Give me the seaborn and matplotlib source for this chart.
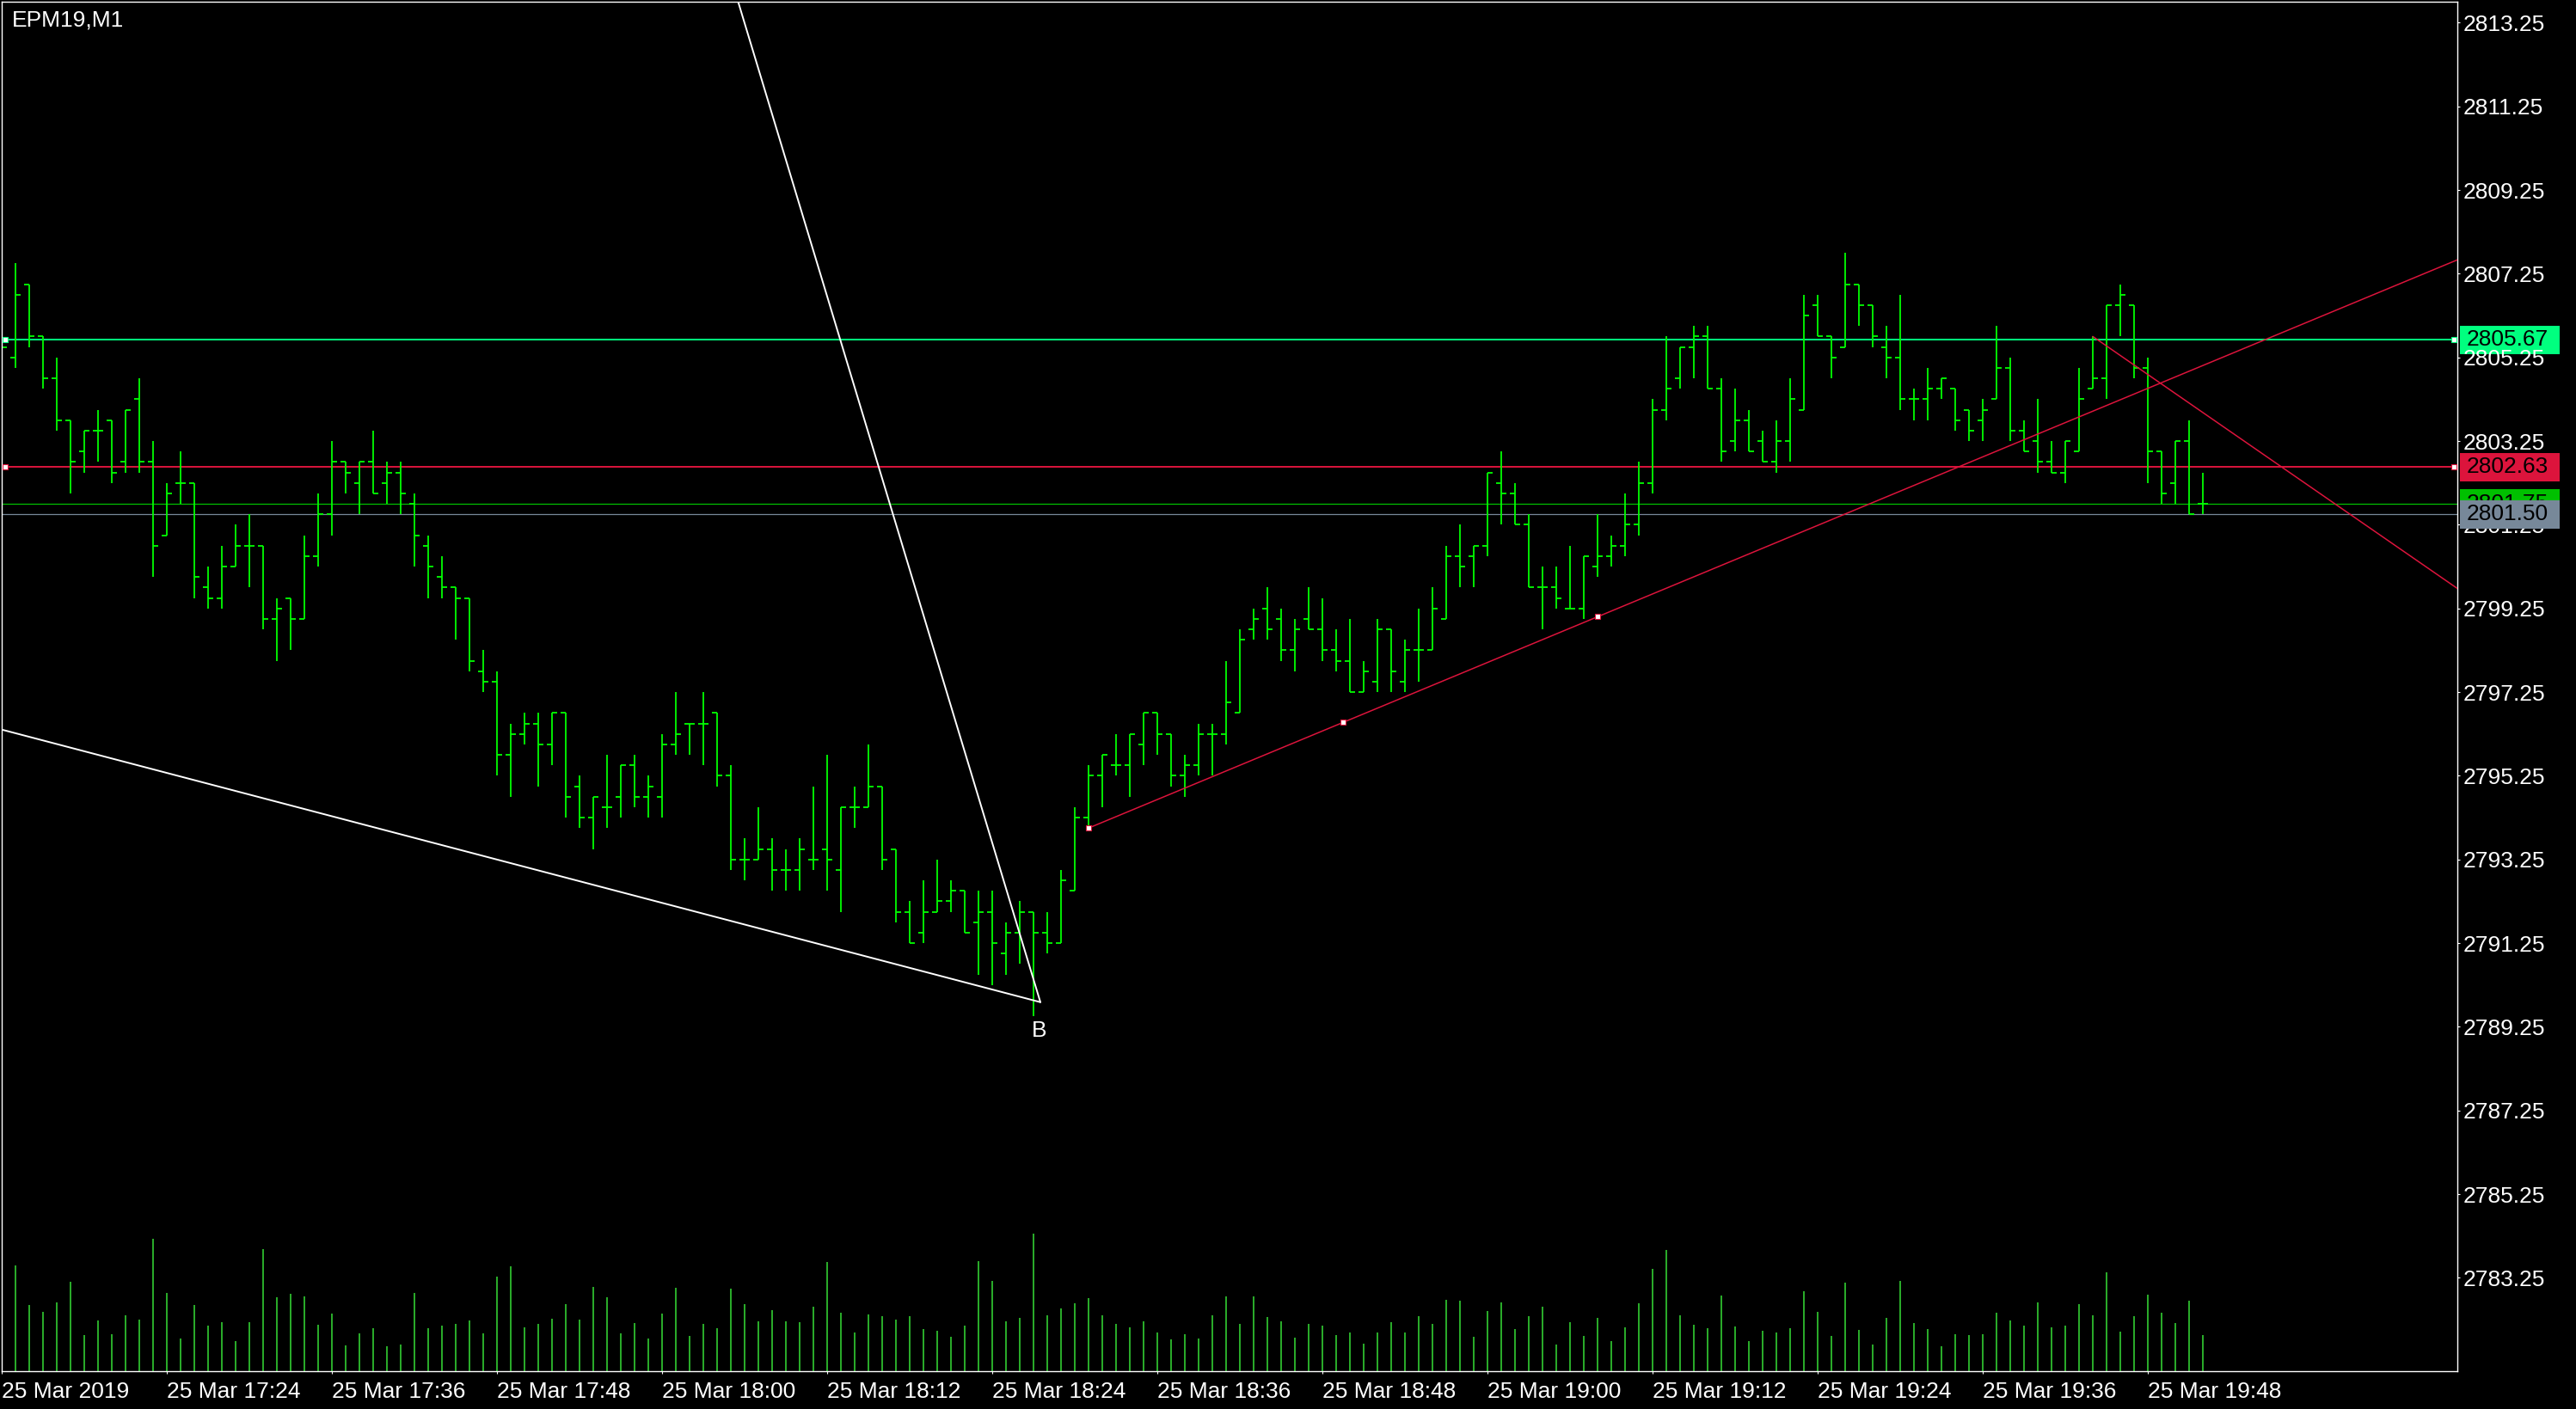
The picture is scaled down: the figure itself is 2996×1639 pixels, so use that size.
import numpy as np
import pandas as pd
import matplotlib
matplotlib.use("Agg")
import matplotlib.pyplot as plt
import matplotlib.transforms as mtransforms
from matplotlib.patches import Rectangle
import seaborn as sns

# chart data, one-minute bars of EPM19 (bar index 0 = 25 Mar 17:12)
symbol_title = "EPM19,M1"

opens = [2805.75, 2805.25, 2807.0, 2805.75, 2804.75, 2803.75, 2803.0, 2803.5, 2803.75, 2802.75,
         2804.25, 2802.75, 2801.0, 2802.25, 2802.25, 2799.75, 2799.5, 2800.25, 2800.75, 2800.75,
         2799.0, 2799.5, 2799.0, 2800.5, 2801.5, 2802.75, 2802.25, 2802.75, 2802.25, 2802.5,
         2801.75, 2800.75, 2800.0, 2799.75, 2799.5, 2797.75, 2797.5, 2795.75, 2796.25, 2796.5,
         2796.0, 2796.75, 2795.0, 2794.25, 2794.5, 2794.75, 2795.5, 2794.75, 2794.75, 2796.0,
         2796.5, 2796.5, 2796.75, 2795.25, 2793.25, 2793.25, 2793.5, 2793.0, 2793.0, 2793.25,
         2793.5, 2793.0, 2794.5, 2794.5, 2795.0, 2793.5, 2792.0, 2791.5, 2792.0, 2792.25,
         2792.5, 2791.75, 2792.0, 2791.0, 2791.5, 2792.0, 2791.5, 2791.25, 2792.5, 2794.25,
         2795.25, 2795.5, 2795.5, 2796.0, 2796.75, 2796.25, 2795.25, 2795.5, 2796.25, 2796.25,
         2796.75, 2798.75, 2799.25, 2799.0, 2798.25, 2799.0, 2798.75, 2798.25, 2798.0, 2797.25,
         2797.5, 2798.75, 2797.5, 2798.25, 2798.25, 2799.0, 2800.5, 2800.5, 2800.75, 2802.25,
         2802.0, 2801.25, 2799.75, 2799.75, 2799.25, 2799.25, 2800.25, 2800.5, 2800.75, 2801.25,
         2802.25, 2804.0, 2804.75, 2805.5, 2805.75, 2804.5, 2803.25, 2803.75, 2803.25, 2802.75,
         2803.25, 2804.0, 2806.5, 2805.75, 2805.5, 2807.0, 2806.5, 2805.5, 2805.25, 2804.25,
         2804.25, 2804.5, 2804.5, 2804.0, 2803.75, 2804.25, 2805.0, 2803.5, 2803.25, 2802.75,
         2802.5, 2803.0, 2804.5, 2804.75, 2806.5, 2806.5, 2805.0, 2803.0, 2802.25, 2803.25,
         2801.75]
highs = [2806.0, 2807.5, 2807.0, 2805.75, 2805.25, 2803.75, 2803.5, 2804.0, 2803.75, 2804.0,
         2804.75, 2803.25, 2802.25, 2803.0, 2802.25, 2800.25, 2800.75, 2801.25, 2801.5, 2800.75,
         2799.5, 2799.5, 2801.0, 2802.0, 2803.25, 2802.75, 2802.75, 2803.5, 2802.75, 2802.75,
         2802.0, 2801.0, 2800.5, 2799.75, 2799.5, 2798.25, 2797.75, 2796.5, 2796.75, 2796.75,
         2796.75, 2796.75, 2795.25, 2794.75, 2795.75, 2795.5, 2795.75, 2795.25, 2796.25, 2797.25,
         2796.5, 2797.25, 2796.75, 2795.5, 2793.75, 2794.5, 2793.75, 2793.5, 2793.75, 2795.0,
         2795.75, 2794.5, 2795.0, 2796.0, 2795.0, 2793.5, 2792.25, 2792.75, 2793.25, 2792.75,
         2792.5, 2792.5, 2792.5, 2791.75, 2792.25, 2792.0, 2792.0, 2793.0, 2794.5, 2795.5,
         2795.75, 2796.25, 2796.25, 2796.75, 2796.75, 2796.25, 2795.75, 2796.5, 2796.5, 2798.0,
         2798.75, 2799.25, 2799.75, 2799.25, 2799.0, 2799.75, 2799.5, 2798.75, 2799.0, 2798.0,
         2799.0, 2798.75, 2798.5, 2799.25, 2799.75, 2800.75, 2801.25, 2800.75, 2802.5, 2803.0,
         2802.25, 2801.5, 2800.25, 2800.25, 2800.75, 2800.5, 2801.5, 2801.0, 2802.0, 2802.75,
         2804.25, 2805.75, 2805.5, 2806.0, 2806.0, 2804.75, 2804.5, 2804.0, 2803.5, 2803.75,
         2804.75, 2806.75, 2806.75, 2805.75, 2807.75, 2807.0, 2806.5, 2806.0, 2806.75, 2804.5,
         2805.0, 2804.75, 2804.5, 2804.0, 2804.25, 2806.0, 2805.25, 2803.75, 2804.25, 2803.25,
         2803.25, 2805.0, 2805.75, 2806.5, 2807.0, 2806.5, 2805.25, 2803.0, 2803.25, 2803.75,
         2802.5]
lows = [2805.25, 2805.0, 2805.5, 2804.5, 2803.5, 2802.0, 2802.5, 2802.75, 2802.25, 2802.5,
        2802.5, 2800.0, 2801.0, 2801.75, 2799.5, 2799.25, 2799.25, 2800.25, 2799.75, 2798.75,
        2798.0, 2798.25, 2799.0, 2800.25, 2801.0, 2802.0, 2801.5, 2802.0, 2801.75, 2801.5,
        2800.25, 2799.5, 2799.5, 2798.5, 2797.75, 2797.25, 2795.25, 2794.75, 2796.0, 2795.0,
        2795.5, 2794.25, 2794.0, 2793.5, 2794.0, 2794.25, 2794.5, 2794.25, 2794.25, 2795.75,
        2795.75, 2795.5, 2795.0, 2793.0, 2792.75, 2793.25, 2792.5, 2792.5, 2792.5, 2793.0,
        2792.5, 2792.0, 2794.0, 2794.5, 2793.0, 2791.75, 2791.25, 2791.25, 2792.0, 2792.0,
        2791.5, 2790.5, 2790.25, 2790.5, 2790.75, 2789.5, 2791.0, 2791.25, 2792.5, 2794.0,
        2794.5, 2795.25, 2794.75, 2795.5, 2795.75, 2795.0, 2794.75, 2795.25, 2795.25, 2796.0,
        2796.75, 2798.5, 2798.5, 2798.0, 2797.75, 2798.75, 2798.0, 2797.75, 2797.25, 2797.25,
        2797.25, 2797.25, 2797.25, 2797.5, 2798.25, 2799.0, 2799.75, 2799.75, 2800.5, 2801.25,
        2801.25, 2799.75, 2798.75, 2799.25, 2799.25, 2799.0, 2800.0, 2800.25, 2800.5, 2801.0,
        2802.0, 2803.75, 2804.5, 2804.75, 2804.5, 2802.75, 2803.0, 2803.0, 2802.75, 2802.5,
        2802.75, 2804.0, 2805.75, 2804.75, 2805.5, 2806.0, 2805.5, 2804.75, 2804.0, 2803.75,
        2803.75, 2804.25, 2803.5, 2803.25, 2803.25, 2804.25, 2803.25, 2803.0, 2802.5, 2802.5,
        2802.25, 2803.0, 2804.5, 2804.25, 2805.75, 2804.75, 2802.25, 2801.75, 2801.75, 2801.5,
        2801.5]
closes = [2805.5, 2806.75, 2805.75, 2804.75, 2803.75, 2802.75, 2803.5, 2803.5, 2802.5, 2804.0,
          2802.75, 2800.75, 2802.0, 2802.25, 2800.0, 2799.5, 2800.25, 2800.75, 2800.75, 2799.0,
          2799.25, 2799.0, 2800.5, 2801.5, 2802.75, 2802.5, 2802.75, 2802.0, 2802.5, 2802.0,
          2801.0, 2800.25, 2799.75, 2799.5, 2798.0, 2797.5, 2795.75, 2796.25, 2796.5, 2796.0,
          2796.75, 2794.75, 2794.25, 2794.75, 2794.5, 2795.5, 2794.75, 2795.0, 2796.0, 2796.25,
          2796.5, 2796.5, 2795.25, 2793.25, 2793.25, 2793.5, 2793.0, 2793.0, 2793.5, 2793.25,
          2793.25, 2794.5, 2794.5, 2795.0, 2793.25, 2792.0, 2791.25, 2792.0, 2792.25, 2792.5,
          2791.5, 2792.0, 2791.25, 2791.5, 2792.0, 2791.5, 2791.25, 2792.75, 2794.25, 2795.25,
          2795.75, 2795.5, 2796.25, 2796.75, 2796.25, 2795.25, 2795.5, 2796.25, 2796.25, 2797.0,
          2798.5, 2799.0, 2798.75, 2798.25, 2798.75, 2798.75, 2798.25, 2798.0, 2797.25, 2797.75,
          2798.75, 2797.75, 2798.25, 2798.25, 2799.25, 2800.5, 2800.25, 2800.75, 2802.5, 2802.0,
          2801.25, 2799.75, 2799.75, 2799.5, 2799.25, 2800.5, 2800.5, 2800.75, 2801.25, 2802.25,
          2804.0, 2804.5, 2805.5, 2805.75, 2804.5, 2803.0, 2803.75, 2803.0, 2802.75, 2803.25,
          2804.25, 2806.25, 2805.75, 2805.25, 2807.0, 2806.5, 2805.75, 2805.25, 2804.25, 2804.25,
          2804.5, 2804.75, 2803.75, 2803.5, 2804.0, 2805.0, 2803.5, 2803.0, 2802.75, 2802.5,
          2803.25, 2804.25, 2804.75, 2806.5, 2806.75, 2805.0, 2803.0, 2802.0, 2803.25, 2801.5,
          2801.75]
volumes = [250, 369, 231, 207, 240, 312, 126, 177, 129, 195, 180, 462, 273, 114, 231, 159, 171,
           105, 171, 426, 258, 270, 261, 162, 201, 90, 132, 150, 87, 93, 273, 150, 159, 165, 177,
           132, 330, 366, 153, 165, 183, 234, 180, 294, 258, 132, 168, 114, 201, 291, 123, 165,
           150, 288, 234, 174, 213, 174, 171, 225, 381, 204, 135, 198, 192, 180, 192, 147, 141,
           120, 159, 384, 315, 174, 186, 480, 195, 219, 237, 255, 195, 165, 153, 174, 135, 111,
           129, 114, 195, 261, 165, 261, 189, 174, 117, 165, 159, 126, 135, 96, 135, 171, 135,
           192, 165, 249, 246, 120, 210, 240, 147, 192, 225, 93, 171, 123, 186, 105, 153, 237,
           357, 423, 195, 162, 150, 264, 156, 105, 141, 135, 150, 279, 207, 123, 309, 144, 93,
           186, 315, 168, 147, 87, 129, 126, 129, 204, 177, 159, 240, 153, 159, 234, 195, 345,
           138, 192, 267, 204, 168, 246, 126]

time_ticks = [0, 12, 24, 36, 48, 60, 72, 84, 96, 108, 120, 132, 144, 156]
time_labels = ["25 Mar 2019", "25 Mar 17:24", "25 Mar 17:36", "25 Mar 17:48", "25 Mar 18:00",
               "25 Mar 18:12", "25 Mar 18:24", "25 Mar 18:36", "25 Mar 18:48", "25 Mar 19:00",
               "25 Mar 19:12", "25 Mar 19:24", "25 Mar 19:36", "25 Mar 19:48"]
price_ticks = [2783.25, 2785.25, 2787.25, 2789.25, 2791.25, 2793.25, 2795.25, 2797.25,
               2799.25, 2801.25, 2803.25, 2805.25, 2807.25, 2809.25, 2811.25, 2813.25]

# horizontal levels and quote lines
level_prices = [2805.67, 2802.63]
level_colors = ["#00FF7F", "#DC143C"]
ask_price = 2801.75
bid_price = 2801.50

# drawn objects (bar index, price)
trend_up_bars = [79, 116]
trend_up_prices = [2794.0, 2799.05]
trend_down_bars = [152, 163]
trend_down_prices = [2805.75, 2803.25]
fan_low_bars = [-1.0, 75.5]
fan_low_prices = [2796.44, 2789.84]
fan_high_bars = [53.3, 75.5]
fan_high_prices = [2814.0, 2789.84]
point_b_bar = 75.5
point_b_price = 2789.84

BAR_GREEN = "#00FF00"
VOL_GREEN = "#32CD32"

sns.set_theme(style="dark", rc={"axes.facecolor": "black", "figure.facecolor": "black",
                                "savefig.facecolor": "black", "axes.grid": False})
plt.rcParams["font.family"] = ["Liberation Sans", "DejaVu Sans"]

W, H = 2996, 1639
fig = plt.figure(figsize=(W / 100, H / 100), dpi=100)
ax = fig.add_axes([2 / W, 44 / H, 2856 / W, 1593 / H])
x_max = 178.5
y_min, y_max = 2781.02, 2813.75

bars = pd.DataFrame({"open": opens, "high": highs, "low": lows, "close": closes, "volume": volumes})
bars["idx"] = np.arange(len(bars))

# volume on its own scale, under the price bars
ax_vol = ax.twinx()
ax_vol.vlines(bars["idx"], 0, bars["volume"], color=VOL_GREEN, lw=1.2)
ax_vol.set_ylim(0, 3 * 1593)
ax_vol.set_yticks([])
for s in ax_vol.spines.values():
    s.set_visible(False)
ax_vol.set_zorder(0)
ax.set_zorder(1)
ax.patch.set_visible(False)

# OHLC bars
tick = 0.375
ax.vlines(bars["idx"], bars["low"], bars["high"], color=BAR_GREEN, lw=1.3, zorder=2)
ax.hlines(bars["open"], bars["idx"] - tick, bars["idx"], color=BAR_GREEN, lw=1.3, zorder=2)
ax.hlines(bars["close"], bars["idx"], bars["idx"] + tick, color=BAR_GREEN, lw=1.3, zorder=2)

# levels
for p, c in zip(level_prices, level_colors):
    ax.axhline(p, color=c, lw=1.4, zorder=1)
ax.axhline(ask_price, color="#00C000", lw=0.9, zorder=1)
ax.axhline(bid_price, color="#778899", lw=0.9, zorder=1)

# trend lines (rays to the right edge)
def ray(xs, ys, x_end):
    k = (ys[1] - ys[0]) / (xs[1] - xs[0])
    return [xs[0], x_end], [ys[0], ys[0] + k * (x_end - xs[0])]

rx, ry = ray(trend_up_bars, trend_up_prices, x_max + 1)
sns.lineplot(x=rx, y=ry, ax=ax, color="#DC143C", lw=1.1, estimator=None, sort=False, zorder=3)
rx, ry = ray(trend_down_bars, trend_down_prices, x_max + 1)
sns.lineplot(x=rx, y=ry, ax=ax, color="#DC143C", lw=1.1, estimator=None, sort=False, zorder=3)
sns.lineplot(x=fan_low_bars, y=fan_low_prices, ax=ax, color="white", lw=1.4,
             estimator=None, sort=False, zorder=3)
sns.lineplot(x=fan_high_bars, y=fan_high_prices, ax=ax, color="white", lw=1.4,
             estimator=None, sort=False, zorder=3)
ax.annotate("B", xy=(point_b_bar, point_b_price), xytext=(-1, -15), textcoords="offset points",
            ha="center", va="top", color="white", fontsize=19, zorder=4)

# anchor markers of the selected objects
mid_bar = (trend_up_bars[0] + trend_up_bars[1]) / 2
mid_price = (trend_up_prices[0] + trend_up_prices[1]) / 2
sns.scatterplot(x=[trend_up_bars[0], mid_bar, trend_up_bars[1]],
                y=[trend_up_prices[0], mid_price, trend_up_prices[1]], ax=ax, marker="s", s=20,
                color="white", edgecolor="#DC143C", linewidth=0.8, zorder=4, legend=False)
for p, c in zip(level_prices, level_colors):
    sns.scatterplot(x=[0.25, x_max - 0.25], y=[p, p], ax=ax, marker="s", s=20, color="white",
                    edgecolor=c, linewidth=0.8, zorder=4, legend=False, clip_on=False)

ax.set_xlim(0, x_max)
ax.set_ylim(y_min, y_max)
ax.set_xlabel("")
ax.set_ylabel("")
ax.grid(False)
ax.set_axisbelow(True)

ax.yaxis.tick_right()
ax.set_yticks(price_ticks)
ax.set_yticklabels([f"{p:.2f}" for p in price_ticks])
ax.set_xticks(time_ticks)
ax.set_xticklabels(time_labels, ha="left")
ax.tick_params(axis="y", right=True, left=False, colors="white", labelsize=19,
               length=2.5, width=0.8, pad=2, direction="out")
ax.tick_params(axis="x", bottom=True, colors="white", labelsize=19,
               length=2.5, width=0.8, pad=6, direction="out")
for s in ax.spines.values():
    s.set_visible(True)
    s.set_color("white")
    s.set_linewidth(1.0)

# price tags on the right scale
tag = mtransforms.blended_transform_factory(fig.transFigure, ax.transData)
tag_h = 33.3 / 48.67


def price_tag(price, color, z):
    ax.add_patch(Rectangle((2861 / W, price - tag_h / 2), 116 / W, tag_h, transform=tag,
                           facecolor=color, edgecolor="none", clip_on=False, zorder=z))
    ax.text(2869 / W, price, f"{price:.2f}", transform=tag, color="black", fontsize=19,
            va="center", ha="left", clip_on=False, zorder=z + 0.01)


for p, c in zip(level_prices, level_colors):
    price_tag(p, c, 0.3)
price_tag(ask_price, "#00C000", 5)
price_tag(bid_price, "#778899", 6)

fig.text(14 / W, 1 - 11 / H, symbol_title, color="white", fontsize=19, va="top", ha="left")

fig.savefig("out.png", dpi=100, facecolor="black")
